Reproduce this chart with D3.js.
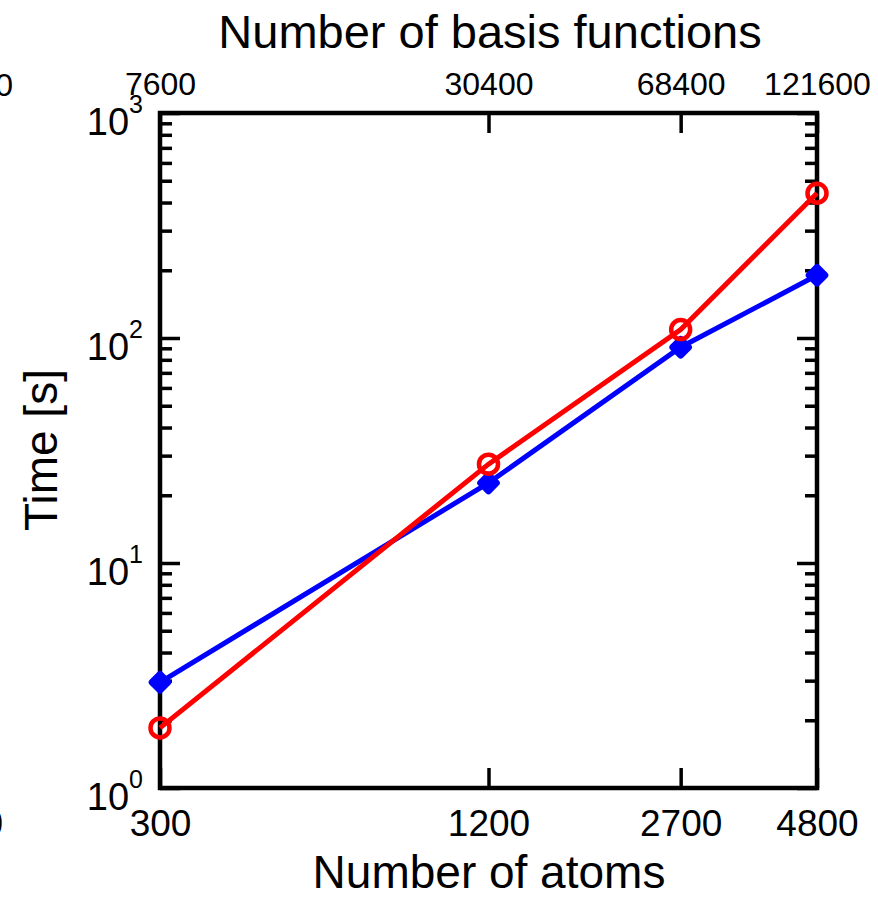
<!DOCTYPE html>
<html>
<head>
<meta charset="utf-8">
<script src="https://cdn.jsdelivr.net/npm/d3@7"></script>
<style>
  body { margin: 0; background: #fff; }
  svg { display: block; font-family: "Liberation Sans", Arial, Helvetica, sans-serif; }
</style>
</head>
<body>
<svg id="chart" width="878" height="897"></svg>
<script>
// atoms on the bottom axis, basis functions on the top one
var atoms = [300, 1200, 2700, 4800];
var basis = [7600, 30400, 68400, 121600];
var timeRed = [1.85, 27.5, 109, 440];
var timeBlue = [2.95, 22.7, 91, 190];
var decades = [1, 10, 100, 1000];
var decadeExp = ["0", "1", "2", "3"];

var plotLeft = 160, plotRight = 817, plotTop = 113, plotBottom = 788;

var svg = d3.select("#chart");

var x = d3.scaleLog().domain([300, 4800]).range([plotLeft, plotRight]);
var xTop = d3.scaleLog().domain([7600, 121600]).range([plotLeft, plotRight]);
var y = d3.scaleLog().domain([1, 1000]).range([plotBottom, plotTop]);

// minor ticks 2..9 for every decade
var minors = [];
decades.slice(0, 3).forEach(function (d) {
    for (var k = 2; k < 10; k++) minors.push(d * k);
});

function styleAxis(g) {
    g.attr("font-family", null);
    g.select(".domain").remove();
    g.selectAll(".tick line").attr("stroke", "#000").attr("stroke-width", 3.5);
    g.selectAll(".tick text").attr("fill", "#000");
}

// bottom axis
svg.append("g")
    .attr("transform", "translate(0," + plotBottom + ")")
    .call(d3.axisBottom(x).tickValues(atoms).tickSize(-20).tickPadding(22)
        .tickFormat(d3.format("d")))
    .call(styleAxis)
    .attr("font-size", 37);

// top axis
svg.append("g")
    .attr("transform", "translate(0," + plotTop + ")")
    .call(d3.axisTop(xTop).tickValues(basis).tickSize(-20).tickPadding(18)
        .tickFormat(d3.format("d")))
    .call(styleAxis)
    .attr("font-size", 32);

// left and right axes, major and minor
svg.append("g")
    .attr("transform", "translate(" + plotLeft + ",0)")
    .call(d3.axisLeft(y).tickValues(decades).tickSize(-20).tickFormat(""))
    .call(styleAxis);
svg.append("g")
    .attr("transform", "translate(" + plotLeft + ",0)")
    .call(d3.axisLeft(y).tickValues(minors).tickSize(-12).tickFormat(""))
    .call(styleAxis);
svg.append("g")
    .attr("transform", "translate(" + plotRight + ",0)")
    .call(d3.axisRight(y).tickValues(decades).tickSize(-20).tickFormat(""))
    .call(styleAxis);
svg.append("g")
    .attr("transform", "translate(" + plotRight + ",0)")
    .call(d3.axisRight(y).tickValues(minors).tickSize(-12).tickFormat(""))
    .call(styleAxis);

// 10^n labels
var lab = svg.selectAll(".ylab")
    .data(decades)
    .enter().append("text")
    .attr("class", "ylab")
    .attr("text-anchor", "end")
    .attr("x", 143)
    .attr("y", function (d) { return y(d) + 22; })
    .attr("font-size", 38);
lab.append("tspan").text("10");
lab.append("tspan")
    .attr("font-size", 25)
    .attr("dy", -22)
    .text(function (d, i) { return decadeExp[i]; });

// frame
svg.append("rect")
    .attr("x", plotLeft).attr("y", plotTop)
    .attr("width", plotRight - plotLeft).attr("height", plotBottom - plotTop)
    .attr("fill", "none").attr("stroke", "#000").attr("stroke-width", 4.5);

// series lines
var line = d3.line()
    .x(function (d, i) { return x(atoms[i]); })
    .y(function (d) { return y(d); });

svg.append("path").datum(timeBlue)
    .attr("d", line).attr("fill", "none")
    .attr("stroke", "#0000ff").attr("stroke-width", 5);
svg.append("path").datum(timeRed)
    .attr("d", line).attr("fill", "none")
    .attr("stroke", "#ff0000").attr("stroke-width", 5);

// blue diamonds
svg.selectAll(".dia")
    .data(timeBlue)
    .enter().append("rect")
    .attr("class", "dia")
    .attr("x", -7.5).attr("y", -7.5)
    .attr("width", 15).attr("height", 15)
    .attr("rx", 2)
    .attr("fill", "#0000ff")
    .attr("stroke", "#0000ff").attr("stroke-width", 3)
    .attr("transform", function (d, i) {
        return "translate(" + x(atoms[i]) + "," + y(d) + ") rotate(45)";
    });

// red open circles
svg.selectAll(".circ")
    .data(timeRed)
    .enter().append("circle")
    .attr("class", "circ")
    .attr("cx", function (d, i) { return x(atoms[i]); })
    .attr("cy", function (d) { return y(d); })
    .attr("r", 9.5)
    .attr("fill", "none")
    .attr("stroke", "#ff0000").attr("stroke-width", 4.5);

// axis titles
svg.append("text")
    .attr("x", 490).attr("y", 48)
    .attr("text-anchor", "middle")
    .attr("font-size", 47)
    .text("Number of basis functions");
svg.append("text")
    .attr("x", 489).attr("y", 888)
    .attr("text-anchor", "middle")
    .attr("font-size", 46)
    .text("Number of atoms");
svg.append("text")
    .attr("transform", "translate(57,450) rotate(-90)")
    .attr("text-anchor", "middle")
    .attr("font-size", 46)
    .text("Time [s]");

// pieces of the neighbouring panel cut off at the left edge
svg.append("text")
    .attr("x", 13).attr("y", 96)
    .attr("text-anchor", "end")
    .attr("font-size", 32)
    .text("0");
svg.append("text")
    .attr("x", 3).attr("y", 836)
    .attr("text-anchor", "end")
    .attr("font-size", 37)
    .text("0");
</script>
</body>
</html>
